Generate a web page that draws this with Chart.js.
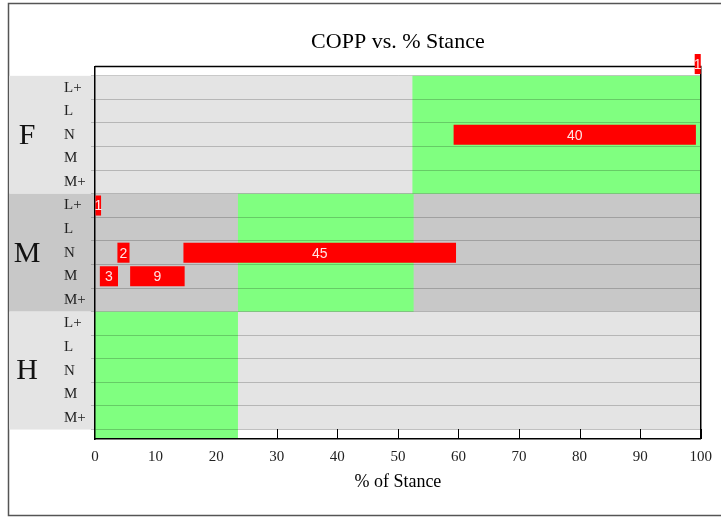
<!DOCTYPE html>
<html>
<head>
<meta charset="utf-8">
<script src="https://cdn.jsdelivr.net/npm/chart.js@4/dist/chart.umd.min.js"></script>
<style>
html, body { margin: 0; padding: 0; background: #fff; }
#wrap { position: relative; width: 721px; height: 518px; }
</style>
</head>
<body>
<div id="wrap"><canvas id="copp"></canvas></div>
<script>
var groups = ["F", "M", "H"];
var levels = ["L+", "L", "N", "M", "M+"];
// green zone per group, in % of stance
var greenFrom = [52.4, 23.6, 0];
var greenTo = [100, 52.6, 23.6];
// rows: 0..4 = F, 5..9 = M, 10..14 = H  (-1 = the stray bar above the top)
var barRows = [-1, 2, 5, 7, 7, 8, 8];
var barStart = [99, 59.2, 0, 3.7, 14.6, 0.8, 5.8];
var barLength = [1, 40, 1, 2, 45, 3, 9];

var rowNames = [];
groups.forEach(function (g) {
    levels.forEach(function (l) { rowNames.push(l); });
});

var serif = "'Liberation Serif', 'DejaVu Serif', serif";

var bands = {
    id: "bands",
    beforeDraw: function (chart) {
        var ctx = chart.ctx, x = chart.scales.x, y = chart.scales.y, area = chart.chartArea;
        ctx.save();
        // outer frame
        ctx.strokeStyle = "#555";
        ctx.lineWidth = 1.5;
        ctx.strokeRect(8.5, 3.5, chart.width + 10, chart.height - 6);
        // gray bands per group
        groups.forEach(function (g, i) {
            var top = y.getPixelForValue(i * 5 - 0.5);
            var bot = y.getPixelForValue(i * 5 + 4.5);
            ctx.fillStyle = i % 2 ? "#c8c8c8" : "#e4e4e4";
            ctx.fillRect(9, top, area.right - 9, bot - top);
        });
        // x ticks pointing inward
        ctx.strokeStyle = "#000";
        ctx.lineWidth = 1;
        x.ticks.forEach(function (t) {
            var px = Math.round(x.getPixelForValue(t.value)) + 0.5;
            ctx.beginPath();
            ctx.moveTo(px, area.bottom);
            ctx.lineTo(px, area.bottom - 10);
            ctx.stroke();
        });
        // green zones
        ctx.fillStyle = "#80ff80";
        groups.forEach(function (g, i) {
            var top = y.getPixelForValue(i * 5 - 0.5);
            var bot = i === groups.length - 1 ? area.bottom : y.getPixelForValue(i * 5 + 4.5);
            var l = x.getPixelForValue(greenFrom[i]), r = x.getPixelForValue(greenTo[i]);
            ctx.fillRect(l, top, r - l, bot - top);
        });
        // group letters
        ctx.fillStyle = "#111";
        ctx.font = "30px " + serif;
        ctx.textAlign = "center";
        ctx.textBaseline = "middle";
        groups.forEach(function (g, i) {
            ctx.fillText(g, 27, y.getPixelForValue(i * 5 + 2) + 1);
        });
        ctx.restore();
    },
    beforeDatasetsDraw: function (chart) {
        var ctx = chart.ctx, area = chart.chartArea;
        ctx.save();
        ctx.strokeStyle = "#000";
        ctx.lineWidth = 1.5;
        ctx.beginPath();
        ctx.moveTo(area.left, area.top);
        ctx.lineTo(area.right, area.top);
        ctx.lineTo(area.right, area.bottom);
        ctx.stroke();
        ctx.restore();
    },
    afterDatasetsDraw: function (chart) {
        var ctx = chart.ctx;
        ctx.save();
        ctx.fillStyle = "#ffe4e4";
        ctx.font = "14px 'Liberation Sans', Arial, sans-serif";
        ctx.textAlign = "center";
        ctx.textBaseline = "middle";
        chart.getDatasetMeta(0).data.forEach(function (bar, i) {
            var c = bar.getCenterPoint();
            ctx.fillText(String(barLength[i]), c.x, c.y + 1);
        });
        ctx.restore();
    }
};

new Chart(document.getElementById("copp"), {
    type: "bar",
    data: {
        datasets: [{
            data: barRows.map(function (r, i) {
                return { y: r, x: [barStart[i], barStart[i] + barLength[i]] };
            }),
            backgroundColor: "#ff0000",
            borderWidth: 0,
            barPercentage: 0.85,
            categoryPercentage: 1,
            clip: false
        }]
    },
    options: {
        indexAxis: "y",
        responsive: true,
        maintainAspectRatio: false,
        animation: false,
        // left padding = where the row labels start (left aligned)
        layout: { padding: { left: 64, right: 18, top: 0, bottom: 25 } },
        plugins: {
            legend: { display: false },
            tooltip: { enabled: false },
            title: {
                display: true,
                fullSize: false,
                text: "COPP vs. % Stance",
                color: "#000",
                font: { family: serif, size: 22, weight: "normal" },
                padding: { top: 29, bottom: 11 }
            }
        },
        scales: {
            x: {
                type: "linear",
                min: 0,
                max: 100,
                ticks: { stepSize: 10, padding: 9, color: "#222", font: { family: serif, size: 15 } },
                grid: { drawOnChartArea: false, drawTicks: false },
                border: { color: "#000", width: 1.5 },
                title: {
                    display: true,
                    text: "% of Stance",
                    color: "#000",
                    font: { family: serif, size: 18 },
                    padding: 0
                },
                afterFit: function (s) { s.height = 54; }
            },
            y: {
                type: "linear",
                reverse: true,
                offset: false,
                min: -0.9,
                max: 14.9,
                afterBuildTicks: function (s) {
                    s.ticks = rowNames.map(function (n, i) { return { value: i }; });
                },
                ticks: {
                    autoSkip: false,
                    crossAlign: "far",
                    padding: 2,
                    color: "#222",
                    font: { family: serif, size: 15 },
                    callback: function (v) { return rowNames[v]; }
                },
                grid: { color: "rgba(0,0,0,0.2)", tickLength: 4 },
                border: { color: "#000", width: 1.5 },
                afterFit: function (s) { s.width = 31; }
            }
        }
    },
    plugins: [bands]
});
</script>
</body>
</html>
